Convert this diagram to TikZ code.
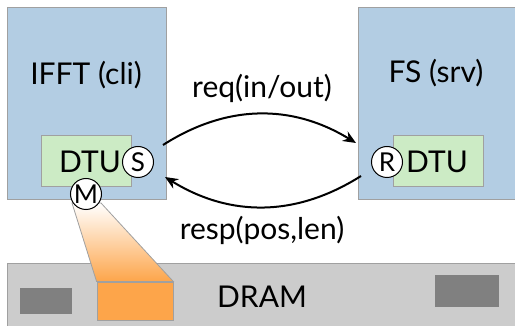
\documentclass[tikz,border=0pt]{standalone}
\usepackage{fontspec}
\setmainfont{Lato}
\usetikzlibrary{arrows.meta,calc}
\definecolor{boxblue}{HTML}{B3CDE3}
\definecolor{boxgreen}{HTML}{CCEBC5}
\definecolor{dramgray}{HTML}{CCCCCC}
\definecolor{darkgray2}{HTML}{808080}
\definecolor{orng}{HTML}{FDA54A}
\definecolor{edge}{HTML}{A0A0A0}
\tikzset{
  proc/.style={draw=edge,fill=boxblue,line width=0.8pt},
  dtubox/.style={draw=edge,fill=boxgreen,line width=0.8pt},
  port/.style={circle,draw=black,fill=white,line width=1pt,minimum size=31pt,inner sep=0pt,font=\fontsize{26}{26}\selectfont},
  lbl/.style={font=\fontsize{30}{34}\selectfont},
  arr/.style={line width=2pt,-{Stealth[length=13pt,width=11pt]}},
}
\begin{document}
\begin{tikzpicture}[x=1pt,y=-1pt]
\useasboundingbox (0,0) rectangle (515,326);
\clip (0,0) rectangle (515,326);
% DRAM
\draw[draw=edge,fill=dramgray,line width=0.8pt] (7,263) rectangle (530,340);
\node[draw=none,fill=darkgray2,minimum width=52pt,minimum height=26pt,inner sep=0pt] (blk1) at (46,301) {};
\node[draw=none,fill=darkgray2,minimum width=64pt,minimum height=32pt,inner sep=0pt] (blk2) at (467,291) {};
\node[lbl] (dram) at (262,297) {DRAM};
% boxes
\draw[proc] (7,7) rectangle (166,199);
\node[inner sep=0pt] (cli) at (86.5,103) {};
\draw[proc] (358,7) rectangle (530,199);
\node[inner sep=0pt] (srv) at (358,103) {};
\node[lbl] (clitext) at (86,75) {IFFT (cli)};
\node[lbl] (srvtext) at (436,73) {FS (srv)};
\draw[dtubox] (41,135) rectangle (131,186);
\node[lbl] (dtul) at (90,162) {DTU};
\draw[dtubox] (393,135) rectangle (483,186);
\node[lbl] (dtur) at (437,162) {DTU};
% orange region
\node[draw=edge,fill=orng,minimum width=76pt,minimum height=38pt,inner sep=0pt,line width=0.8pt] (org) at (135,301) {};
\shade[top color=white,bottom color=orng,draw=edge,line width=0.8pt] (72,203) -- (101,203) -- (org.north east) -- (org.north west) -- cycle;
% ports
\node[port] (S) at (138,162) {S};
\node[port] (R) at (387,162) {R};
\node[port] (M) at (86,194) {M};
% arrows
\coordinate (a1) at (163,145);
\coordinate (b1) at (356,143);
\coordinate (a2) at (361,176);
\coordinate (b2) at (165,177);
\draw[arr] (a1) to[bend left=32] (b1);
\draw[arr] (a2) to[bend left=32] (b2);
\node[lbl] (req) at (262,88) {req(in/out)};
\node[lbl] (resp) at (262,230) {resp(pos,len)};
\end{tikzpicture}
\end{document}
